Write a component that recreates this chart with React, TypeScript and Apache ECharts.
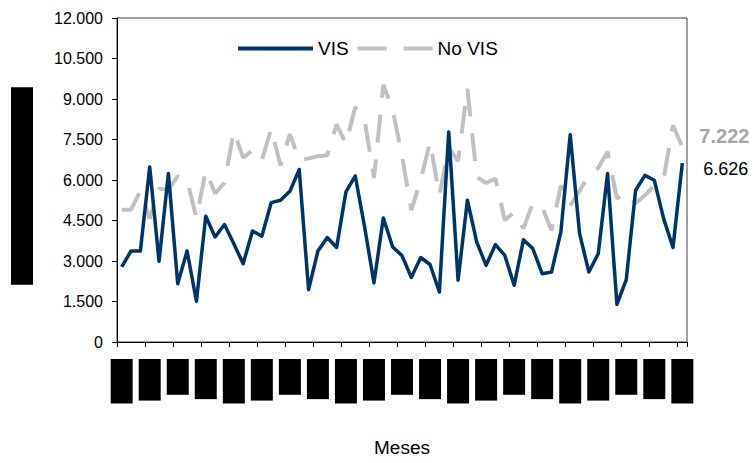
import React, { useEffect, useRef } from "react";
import * as echarts from "echarts";

const categories: string[] = [
  "ene-05", "feb-05", "mar-05", "abr-05", "may-05", "jun-05", "jul-05", "ago-05", "sep-05", "oct-05", "nov-05", "dic-05",
  "ene-06", "feb-06", "mar-06", "abr-06", "may-06", "jun-06", "jul-06", "ago-06", "sep-06", "oct-06", "nov-06", "dic-06",
  "ene-07", "feb-07", "mar-07", "abr-07", "may-07", "jun-07", "jul-07", "ago-07", "sep-07", "oct-07", "nov-07", "dic-07",
  "ene-08", "feb-08", "mar-08", "abr-08", "may-08", "jun-08", "jul-08", "ago-08", "sep-08", "oct-08", "nov-08", "dic-08",
  "ene-09", "feb-09", "mar-09", "abr-09", "may-09", "jun-09", "jul-09", "ago-09", "sep-09", "oct-09", "nov-09", "dic-09",
  "ene-10",
];

const visValues: number[] = [
  2780, 3370, 3370, 6480, 2990, 6240, 2160, 3370, 1510, 4660,
  3890, 4350, 3640, 2900, 4110, 3920, 5160, 5250, 5580, 6390,
  1940, 3370, 3870, 3500, 5560, 6150, 4260, 2190, 4590, 3520,
  3200, 2390, 3130, 2870, 1850, 7780, 2290, 5250, 3700, 2840,
  3610, 3210, 2100, 3790, 3460, 2530, 2590, 4070, 7680, 4020,
  2590, 3270, 6240, 1390, 2310, 5620, 6170, 5990, 4570, 3500,
  6626,
];

const noVisValues: number[] = [
  4900, 4900, 5590, 4570, 5680, 5630, 6140, 6000, 4600, 6350,
  5500, 5900, 7800, 6830, 7100, 6730, 7900, 6540, 7700, 6730,
  6800, 6880, 6920, 8060, 7340, 8700, 8210, 6080, 9530, 8600,
  6900, 4880, 5990, 7410, 5430, 7200, 6700, 9380, 6110, 5890,
  6050, 4510, 4810, 4200, 5150, 5000, 4140, 5800, 5050, 5600,
  6170, 6450, 7050, 5310, 5540, 5140, 5430, 5800, 6050, 8030,
  7222,
];

const seriesNames = ["VIS", "No VIS"];
const yAxisTitle = "Unidades vendidas";
const xAxisTitle = "Meses";

const VIS_COLOR = "#003366";
const NOVIS_COLOR = "#c0c0c0";
const SANS = "'Liberation Sans', Arial, sans-serif";

const fmt = (v: number) => String(Math.round(v)).replace(/\B(?=(\d{3})+(?!\d))/g, ".");

export default function App() {
  const ref = useRef<HTMLDivElement>(null);

  useEffect(() => {
    if (!ref.current) return;
    const chart = echarts.init(ref.current, null, { renderer: "svg" });
    chart.setOption({
      animation: false,
      backgroundColor: "#ffffff",
      grid: {
        left: 117,
        right: 68,
        top: 18,
        bottom: 121,
        show: true,
        borderColor: "#404040",
        borderWidth: 1,
        containLabel: false,
      },
      legend: {
        data: [
          { name: seriesNames[0], icon: "rect", itemStyle: { color: VIS_COLOR } },
          {
            name: seriesNames[1],
            icon: "path://M0,0H29V4H0ZM46,0H75V4H46Z",
            itemStyle: { color: NOVIS_COLOR },
          },
        ],
        left: 233,
        top: 34,
        itemWidth: 75,
        itemHeight: 4,
        itemGap: 9,
        textStyle: { fontSize: 19, fontFamily: SANS, color: "#000" },
      },
      xAxis: {
        type: "category",
        data: categories,
        boundaryGap: true,
        name: xAxisTitle,
        nameLocation: "middle",
        nameGap: 96,
        nameTextStyle: { fontSize: 19, fontFamily: SANS, color: "#000" },
        axisLine: { show: true, lineStyle: { color: "#000", width: 1 } },
        axisTick: { show: true, interval: 2, length: 5, lineStyle: { color: "#000" } },
        axisLabel: {
          interval: 2,
          rotate: 90,
          margin: 17,
          fontSize: 13,
          lineHeight: 16,
          fontFamily: SANS,
          color: "#000",
          backgroundColor: "#000",
          padding: [3, 2, 3, 2],
        },
        splitLine: { show: false },
      },
      yAxis: {
        type: "value",
        min: 0,
        max: 12000,
        interval: 1500,
        axisLine: { show: true, lineStyle: { color: "#000", width: 1 } },
        axisTick: { show: true, length: 5, lineStyle: { color: "#000" } },
        axisLabel: {
          fontSize: 16,
          fontFamily: SANS,
          color: "#000",
          margin: 14,
          formatter: (v: number) => fmt(v),
        },
        splitLine: { show: false },
      },
      graphic: [
        {
          type: "text",
          x: 22,
          y: 186,
          rotation: Math.PI / 2,
          style: {
            text: yAxisTitle,
            fontSize: 15,
            fontFamily: SANS,
            fill: "#000",
            backgroundColor: "#000",
            padding: [3, 35, 3, 35],
            lineHeight: 16,
            align: "center",
            verticalAlign: "middle",
          },
        },
      ],
      series: [
        {
          name: seriesNames[0],
          type: "line",
          data: visValues,
          symbol: "none",
          z: 3,
          lineStyle: { color: VIS_COLOR, width: 3.5, join: "round" },
          itemStyle: { color: VIS_COLOR },
          endLabel: {
            show: true,
            formatter: (p: any) => fmt(p.value),
            distance: 0,
            offset: [21, 6],
            color: "#000",
            fontSize: 18,
            fontFamily: SANS,
          },
        },
        {
          name: seriesNames[1],
          type: "line",
          data: noVisValues,
          symbol: "none",
          z: 2,
          lineStyle: { color: NOVIS_COLOR, width: 4, type: [28, 17], cap: "butt" },
          itemStyle: { color: NOVIS_COLOR },
          endLabel: {
            show: true,
            formatter: (p: any) => fmt(p.value),
            distance: 0,
            offset: [17, -11],
            color: "#a6a6a6",
            fontSize: 20,
            fontWeight: "bold",
            fontFamily: SANS,
          },
        },
      ],
    });
    return () => chart.dispose();
  }, []);

  return (
    <div
      ref={ref}
      style={{ position: "absolute", left: 0, top: 0, width: 755, height: 463 }}
    />
  );
}
